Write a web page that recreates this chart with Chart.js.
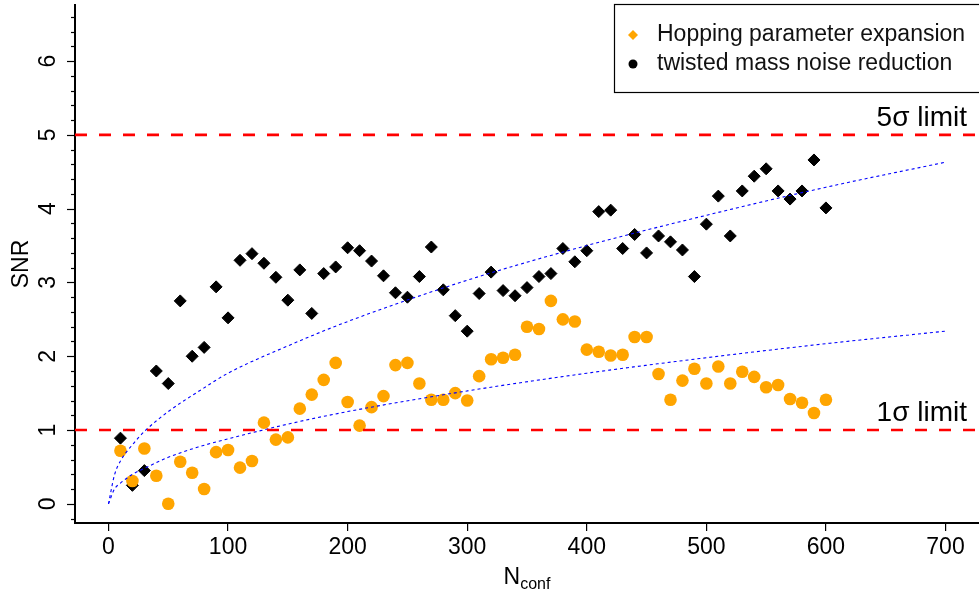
<!DOCTYPE html>
<html>
<head>
<meta charset="utf-8">
<script src="https://cdn.jsdelivr.net/npm/chart.js@4.4.1/dist/chart.umd.min.js"></script>
<style>
  html, body { margin: 0; padding: 0; background: #fff; }
  #wrap { width: 979px; height: 590px; }
</style>
</head>
<body>
<div id="wrap"><canvas id="snrChart" width="979" height="590"></canvas></div>
<script>
const FONT = "'Liberation Sans', Arial, Helvetica, sans-serif";

// number of configurations
const nconf = [10, 20, 30, 40, 50, 60, 70, 80, 90, 100,
  110, 120, 130, 140, 150, 160, 170, 180, 190, 200,
  210, 220, 230, 240, 250, 260, 270, 280, 290, 300,
  310, 320, 330, 340, 350, 360, 370, 380, 390, 400,
  410, 420, 430, 440, 450, 460, 470, 480, 490, 500,
  510, 520, 530, 540, 550, 560, 570, 580, 590, 600];

// orange circles
const hopping_snr = [0.72, 0.31, 0.75, 0.38, 0.00, 0.57, 0.42, 0.20, 0.70, 0.73,
  0.49, 0.58, 1.10, 0.87, 0.90, 1.29, 1.48, 1.68, 1.91, 1.38,
  1.06, 1.31, 1.46, 1.88, 1.91, 1.63, 1.41, 1.41, 1.50, 1.40,
  1.73, 1.96, 1.98, 2.02, 2.40, 2.37, 2.75, 2.50, 2.47, 2.09,
  2.06, 2.01, 2.02, 2.26, 2.26, 1.76, 1.41, 1.67, 1.83, 1.63,
  1.86, 1.63, 1.79, 1.72, 1.58, 1.61, 1.42, 1.37, 1.23, 1.41];

// black diamonds
const twisted_snr = [0.89, 0.25, 0.45, 1.80, 1.63, 2.75, 2.00, 2.12, 2.94, 2.52,
  3.30, 3.39, 3.26, 3.07, 2.76, 3.17, 2.58, 3.12, 3.21, 3.47,
  3.43, 3.29, 3.09, 2.86, 2.80, 3.08, 3.48, 2.90, 2.55, 2.34,
  2.85, 3.14, 2.89, 2.82, 2.93, 3.08, 3.12, 3.46, 3.28, 3.43,
  3.96, 3.98, 3.46, 3.65, 3.40, 3.63, 3.55, 3.44, 3.08, 3.79,
  4.17, 3.63, 4.24, 4.44, 4.54, 4.24, 4.13, 4.24, 4.66, 4.01];

// blue dotted fit curves
const fit_x = [0, 5, 10, 20, 30, 50, 75, 100, 150, 200, 300, 400, 500, 600, 700];
const fit_twisted = [0, 0.39, 0.58, 0.80, 0.98, 1.25, 1.52, 1.77, 2.14, 2.47, 3.03, 3.50, 3.91, 4.29, 4.63];
const fit_hopping = [0, 0.20, 0.28, 0.40, 0.48, 0.63, 0.77, 0.88, 1.08, 1.25, 1.53, 1.77, 1.98, 2.17, 2.34];

const limits = [1, 5];
const limit_labels = ['1σ limit', '5σ limit'];

const x_ticks = [0, 100, 200, 300, 400, 500, 600, 700];
const y_ticks = [0, 1, 2, 3, 4, 5, 6];
const x_range = [-28, 728];
const y_range = [-0.26, 6.76];

const legend_labels = ['Hopping parameter expansion', 'twisted mass noise reduction'];

const toXY = (xs, ys) => xs.map((x, i) => ({x: x, y: ys[i]}));

const datasets = [];
limits.forEach(l => {
  datasets.push({
    data: [{x: x_range[0], y: l}, {x: x_range[1], y: l}],
    showLine: true, borderColor: '#ff0000', borderWidth: 2.6, borderDash: [12, 12],
    pointRadius: 0, order: 0
  });
});
[fit_twisted, fit_hopping].forEach(f => {
  datasets.push({
    data: toXY(fit_x, f),
    showLine: true, borderColor: '#0000ff', borderWidth: 1.1, borderDash: [3, 3],
    cubicInterpolationMode: 'monotone', pointRadius: 0, order: 1
  });
});
datasets.push({
  data: toXY(nconf, hopping_snr),
  pointStyle: 'circle', pointRadius: 6.3, backgroundColor: '#ffa500',
  borderColor: '#ffa500', borderWidth: 0, order: 2
});
datasets.push({
  data: toXY(nconf, twisted_snr),
  pointStyle: 'rectRot', pointRadius: 6, backgroundColor: '#000',
  borderColor: '#000', borderWidth: 1, order: 3
});

const decor = {
  id: 'decor',
  afterDraw(chart) {
    const ctx = chart.ctx;
    const xs = chart.scales.x, ys = chart.scales.y;
    const area = chart.chartArea;
    ctx.save();
    ctx.fillStyle = '#000';
    ctx.strokeStyle = '#000';

    // y ticks, major and minor
    ctx.lineWidth = 1.2;
    for (let k = -1; k <= 33; k++) {
      const v = k * 0.2;
      const py = Math.round(ys.getPixelForValue(v)) + 0.5;
      const len = (k % 5 === 0) ? 8 : 4;
      ctx.beginPath();
      ctx.moveTo(area.left - len, py);
      ctx.lineTo(area.left, py);
      ctx.stroke();
    }

    // y tick labels, rotated
    ctx.font = '23px ' + FONT;
    ctx.textAlign = 'center';
    ctx.textBaseline = 'middle';
    y_ticks.forEach(v => {
      ctx.save();
      ctx.translate(49, ys.getPixelForValue(v));
      ctx.rotate(-Math.PI / 2);
      ctx.fillText(String(v), 0, 0);
      ctx.restore();
    });

    // y title
    ctx.save();
    ctx.translate(22, (area.top + area.bottom) / 2);
    ctx.rotate(-Math.PI / 2);
    ctx.fillText('SNR', 0, 0);
    ctx.restore();

    // x title N_conf
    const cx = (area.left + area.right) / 2;
    ctx.textBaseline = 'alphabetic';
    ctx.textAlign = 'left';
    ctx.font = '23px ' + FONT;
    const wN = ctx.measureText('N').width;
    ctx.font = '16px ' + FONT;
    const wSub = ctx.measureText('conf').width;
    const x0 = cx - (wN + wSub) / 2;
    ctx.font = '23px ' + FONT;
    ctx.fillText('N', x0, 584);
    ctx.font = '16px ' + FONT;
    ctx.fillText('conf', x0 + wN, 589);

    // limit labels
    ctx.font = '28px ' + FONT;
    ctx.textAlign = 'right';
    limits.forEach((l, i) => {
      ctx.fillText(limit_labels[i], area.right - 12, ys.getPixelForValue(l) - 9);
    });

    // legend box
    const bx = 614, by = 4, bw = 400, bh = 88;
    ctx.fillStyle = '#fff';
    ctx.fillRect(bx, by, bw, bh);
    ctx.lineWidth = 1.2;
    ctx.strokeStyle = '#000';
    ctx.strokeRect(bx + 0.5, by + 0.5, bw, bh);
    ctx.font = '23px ' + FONT;
    ctx.textAlign = 'left';
    ctx.textBaseline = 'middle';
    ctx.fillStyle = '#111';
    ctx.fillText(legend_labels[0], 657, 35);
    ctx.fillText(legend_labels[1], 657, 64);
    // symbols as in the original (diamond orange, dot black)
    ctx.fillStyle = '#ffa500';
    ctx.beginPath();
    ctx.moveTo(633, 30); ctx.lineTo(638, 35); ctx.lineTo(633, 40); ctx.lineTo(628, 35);
    ctx.closePath();
    ctx.fill();
    ctx.fillStyle = '#000';
    ctx.beginPath();
    ctx.arc(633, 64, 4.5, 0, Math.PI * 2);
    ctx.fill();
    ctx.restore();
  }
};

new Chart(document.getElementById('snrChart').getContext('2d'), {
  type: 'scatter',
  data: { datasets: datasets },
  options: {
    responsive: false,
    animation: false,
    layout: { autoPadding: false, padding: { top: 5, left: 0, right: 0, bottom: 0 } },
    plugins: { legend: { display: false }, tooltip: { enabled: false } },
    scales: {
      x: {
        type: 'linear', min: x_range[0], max: x_range[1],
        afterBuildTicks: s => { s.ticks = x_ticks.map(v => ({value: v})); },
        afterFit: s => { s.height = 67; s.paddingLeft = 0; s.paddingRight = 0; },
        grid: { drawOnChartArea: false, drawTicks: true, tickLength: 8, color: '#000', lineWidth: 1.2 },
        border: { display: true, color: '#000', width: 2 },
        ticks: { color: '#000', font: { family: FONT, size: 23 }, padding: 3, maxRotation: 0, autoSkip: false }
      },
      y: {
        type: 'linear', min: y_range[0], max: y_range[1],
        afterFit: s => { s.width = 75; s.paddingTop = 0; s.paddingBottom = 0; },
        grid: { drawOnChartArea: false, drawTicks: false },
        border: { display: true, color: '#000', width: 2 },
        ticks: { display: false }
      }
    }
  },
  plugins: [decor]
});
</script>
</body>
</html>
